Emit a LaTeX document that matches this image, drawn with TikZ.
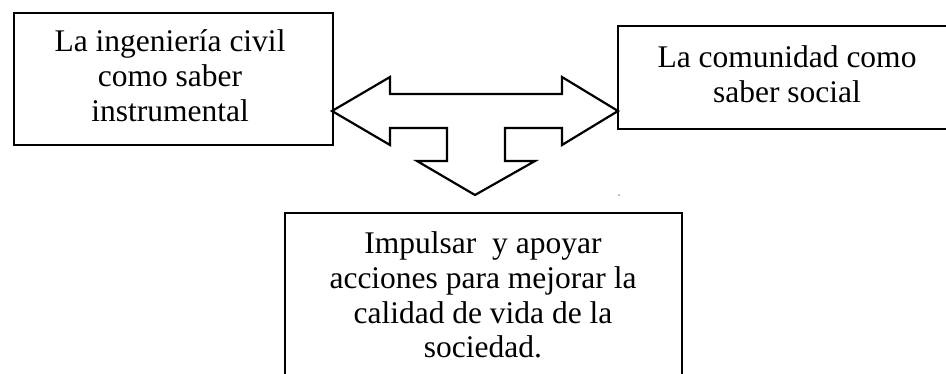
\documentclass[tikz,border=0pt]{standalone}
\usepackage{fontspec}
\setmainfont{Liberation Serif}
\begin{document}
\begin{tikzpicture}[x=1pt,y=-1pt,
  box/.style={draw=black,line width=2.8pt,inner sep=0pt,fill=none},
  txt/.style={align=center,anchor=base,inner sep=0pt,font=\fontsize{31.5}{35}\selectfont},
  arrowshape/.style={draw=black,line width=2.2pt,line join=miter}]
\useasboundingbox (0,0) rectangle (946,374);
\fill[white] (0,0) rectangle (946,374);
% boxes
\node[box,minimum width=319pt,minimum height=132pt] (lbox) at (173.5,79) {};
\node[box,minimum width=338pt,minimum height=103pt] (rbox) at (787,77.5) {};
\node[box,minimum width=397pt,minimum height=207pt] (bbox) at (483.5,316.5) {};
% texts (anchor = baseline of last line)
\node[txt] (ltxt) at (170,122) {La ingeniería civil\\como saber\\instrumental};
\node[txt] (rtxt) at (787,103) {La comunidad como\\saber social};
\node[txt] (btxt) at (483,358) {Impulsar\ \ y apoyar\\acciones para mejorar la\\calidad de vida de la\\sociedad.};
% combined double/down arrow
\draw[arrowshape] (332,111) -- (390,77) -- (390,94) -- (562,94) -- (562,77) -- (618,111)
  -- (562,145) -- (562,128) -- (505,128) -- (505,161) -- (535,161) -- (475,195)
  -- (417,161) -- (447,161) -- (447,128) -- (390,128) -- (390,145) -- cycle;
% small stray dot
\fill[gray] (619,195) circle (0.8);
\end{tikzpicture}
\end{document}
